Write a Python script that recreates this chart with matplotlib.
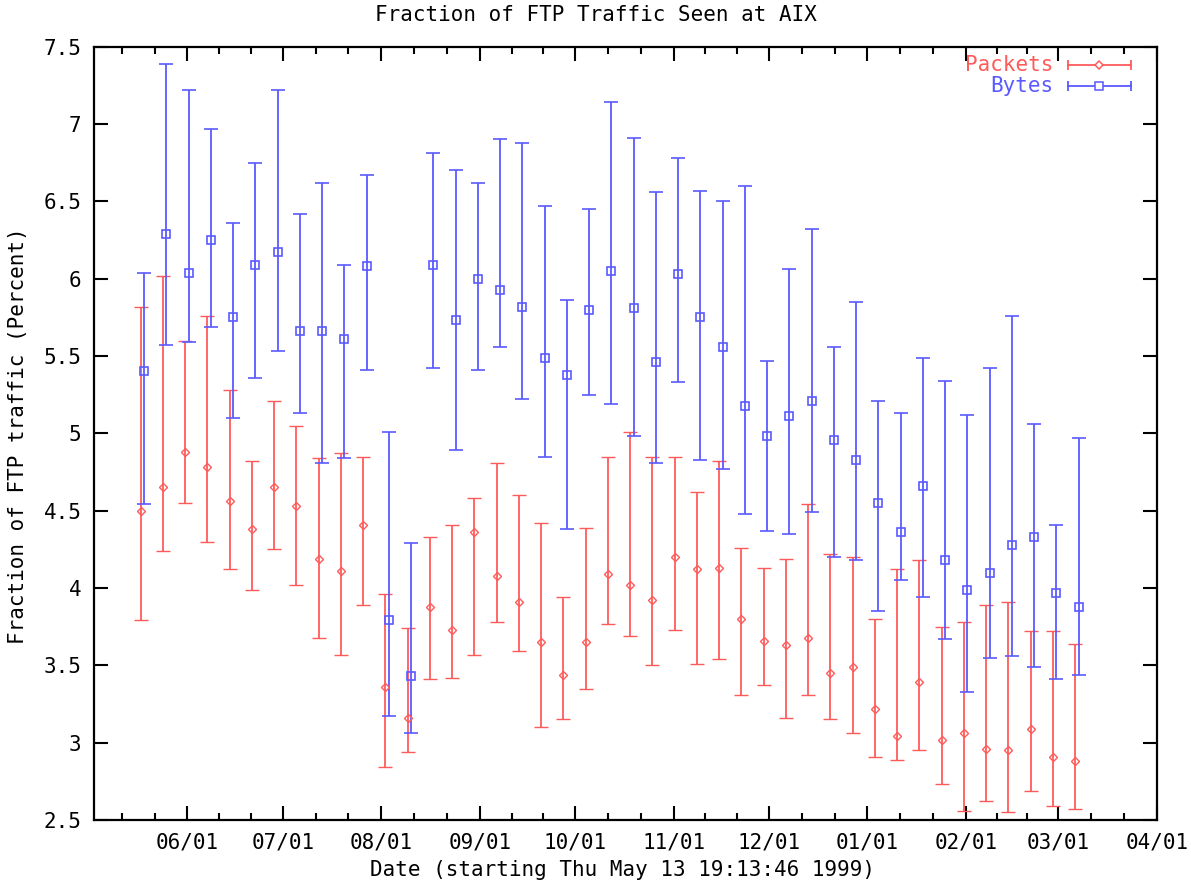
import matplotlib
matplotlib.use('Agg')
import matplotlib.pyplot as plt
import matplotlib.dates as mdates
import matplotlib.ticker as mticker
import numpy as np
import pandas as pd

# weekly bins, plotted at the middle of each week
weeks = ['1999-05-17', '1999-05-24', '1999-05-31', '1999-06-07', '1999-06-14',
         '1999-06-21', '1999-06-28', '1999-07-05', '1999-07-12', '1999-07-19',
         '1999-07-26', '1999-08-02', '1999-08-09', '1999-08-16', '1999-08-23',
         '1999-08-30', '1999-09-06', '1999-09-13', '1999-09-20', '1999-09-27',
         '1999-10-04', '1999-10-11', '1999-10-18', '1999-10-25', '1999-11-01',
         '1999-11-08', '1999-11-15', '1999-11-22', '1999-11-29', '1999-12-06',
         '1999-12-13', '1999-12-20', '1999-12-27', '2000-01-03', '2000-01-10',
         '2000-01-17', '2000-01-24', '2000-01-31', '2000-02-07', '2000-02-14',
         '2000-02-21', '2000-02-28', '2000-03-06']

pkt_mid = [4.50, 4.65, 4.88, 4.78, 4.56, 4.38, 4.65, 4.53, 4.19, 4.11,
           4.41, 3.36, 3.16, 3.88, 3.73, 4.36, 4.08, 3.91, 3.65, 3.44,
           3.65, 4.09, 4.02, 3.92, 4.20, 4.12, 4.13, 3.80, 3.66, 3.63,
           3.68, 3.45, 3.49, 3.22, 3.04, 3.39, 3.02, 3.06, 2.96, 2.95,
           3.09, 2.91, 2.88]
pkt_lo = [3.79, 4.24, 4.55, 4.30, 4.12, 3.99, 4.25, 4.02, 3.68, 3.57,
          3.89, 2.84, 2.94, 3.41, 3.42, 3.57, 3.78, 3.59, 3.10, 3.15,
          3.35, 3.77, 3.69, 3.50, 3.73, 3.51, 3.54, 3.31, 3.37, 3.16,
          3.31, 3.15, 3.06, 2.91, 2.89, 2.95, 2.73, 2.56, 2.62, 2.55,
          2.69, 2.59, 2.57]
pkt_hi = [5.82, 6.02, 5.60, 5.76, 5.28, 4.82, 5.21, 5.05, 4.84, 4.87,
          4.85, 3.96, 3.74, 4.33, 4.41, 4.58, 4.81, 4.60, 4.42, 3.94,
          4.39, 4.85, 5.01, 4.85, 4.85, 4.62, 4.82, 4.26, 4.13, 4.19,
          4.54, 4.22, 4.20, 3.80, 4.12, 4.18, 3.75, 3.78, 3.89, 3.91,
          3.72, 3.72, 3.64]

byte_mid = [5.40, 6.29, 6.04, 6.25, 5.75, 6.09, 6.17, 5.66, 5.66, 5.61,
            6.08, 3.79, 3.43, 6.09, 5.73, 6.00, 5.93, 5.82, 5.49, 5.38,
            5.80, 6.05, 5.81, 5.46, 6.03, 5.75, 5.56, 5.18, 4.98, 5.11,
            5.21, 4.96, 4.83, 4.55, 4.36, 4.66, 4.18, 3.99, 4.10, 4.28,
            4.33, 3.97, 3.88]
byte_lo = [4.54, 5.57, 5.59, 5.69, 5.10, 5.36, 5.53, 5.13, 4.81, 4.84,
           5.41, 3.17, 3.06, 5.42, 4.89, 5.41, 5.56, 5.22, 4.85, 4.38,
           5.25, 5.19, 4.98, 4.81, 5.33, 4.83, 4.77, 4.48, 4.37, 4.35,
           4.49, 4.20, 4.18, 3.85, 4.05, 3.94, 3.67, 3.33, 3.55, 3.56,
           3.49, 3.41, 3.44]
byte_hi = [6.04, 7.39, 7.22, 6.97, 6.36, 6.75, 7.22, 6.42, 6.62, 6.09,
           6.67, 5.01, 4.29, 6.81, 6.70, 6.62, 6.90, 6.88, 6.47, 5.86,
           6.45, 7.14, 6.91, 6.56, 6.78, 6.57, 6.50, 6.60, 5.47, 6.06,
           6.32, 5.56, 5.85, 5.21, 5.13, 5.49, 5.34, 5.12, 5.42, 5.76,
           5.06, 4.41, 4.97]

RED = '#ff5a5a'
BLUE = '#5a5aff'
FONT = 'DejaVu Sans Mono'
FS = 15

plt.rcParams['font.family'] = FONT

x_pkt = pd.to_datetime(weeks) + pd.Timedelta(hours=7)
x_byte = x_pkt + pd.Timedelta(hours=27)   # small shift so the bars don't overlap

pm, pl, ph = np.array(pkt_mid), np.array(pkt_lo), np.array(pkt_hi)
bm, bl, bh = np.array(byte_mid), np.array(byte_lo), np.array(byte_hi)

fig = plt.figure(figsize=(11.91, 8.84), dpi=100)
ax = fig.add_axes([94/1191, 64/884, 1062.7/1191, 773.3/884])

ax.errorbar(x_pkt, pm, yerr=[pm - pl, ph - pm], fmt='D', color=RED,
            markersize=4, mfc='none', mew=1.0, elinewidth=1.3,
            capsize=5, capthick=1.3)
ax.errorbar(x_byte, bm, yerr=[bm - bl, bh - bm], fmt='s', color=BLUE,
            markersize=6, mfc='none', mew=1.2, elinewidth=1.3,
            capsize=5, capthick=1.3)

ax.set_ylim(2.5, 7.5)
ax.set_xlim(pd.Timestamp('1999-05-02 15:00'), pd.Timestamp('2000-04-01'))

# major ticks on month starts, minor ticks at thirds of each month
months = pd.date_range('1999-05-01', '2000-04-01', freq='MS')
minor = []
for a, b in zip(months[:-1], months[1:]):
    minor.append(a + (b - a) / 3)
    minor.append(a + 2 * (b - a) / 3)
ax.set_xticks(mdates.date2num(months[1:]))
ax.set_xticks(mdates.date2num(minor), minor=True)
ax.xaxis.set_major_formatter(mdates.DateFormatter('%m/%d'))
ax.yaxis.set_major_locator(mticker.MultipleLocator(0.5))
ax.yaxis.set_major_formatter(mticker.FormatStrFormatter('%g'))

ax.tick_params(axis='both', which='major', direction='in', length=10, width=1.5,
               top=True, right=True, labelsize=FS, pad=9)
ax.tick_params(axis='x', which='minor', direction='in', length=5, width=1.5,
               top=True, bottom=True)
ax.tick_params(axis='y', which='minor', left=False, right=False)
for s in ax.spines.values():
    s.set_linewidth(1.6)

fig.text(0.5, 1 - 15/884, 'Fraction of FTP Traffic Seen at AIX',
         ha='center', va='center', fontsize=FS)
fig.text(622/1191, 1 - 870/884, 'Date (starting Thu May 13 19:13:46 1999)',
         ha='center', va='center', fontsize=FS)
fig.text(18/1191, 1 - 436/884, 'Fraction of FTP traffic (Percent)',
         ha='center', va='center', rotation=90, fontsize=FS)

# gnuplot style key in the top right corner
keys = [('Packets', RED, 'D', 4, 0.976), ('Bytes', BLUE, 's', 6, 0.949)]
for label, col, mk, ms, yk in keys:
    ax.plot([0.9168, 0.9755], [yk, yk], color=col, lw=1.3,
            transform=ax.transAxes, clip_on=False)
    ax.plot([0.9168, 0.9755], [yk, yk], ls='none', marker='|', ms=7, mew=1.3,
            color=col, transform=ax.transAxes, clip_on=False)
    ax.plot([0.946], [yk], ls='none', marker=mk, ms=ms, mfc='white', mew=1.1,
            color=col, transform=ax.transAxes, clip_on=False)
    ax.text(0.9027, yk, label, color=col, fontsize=FS, ha='right', va='center',
            transform=ax.transAxes)

fig.savefig('out.png', dpi=100)
